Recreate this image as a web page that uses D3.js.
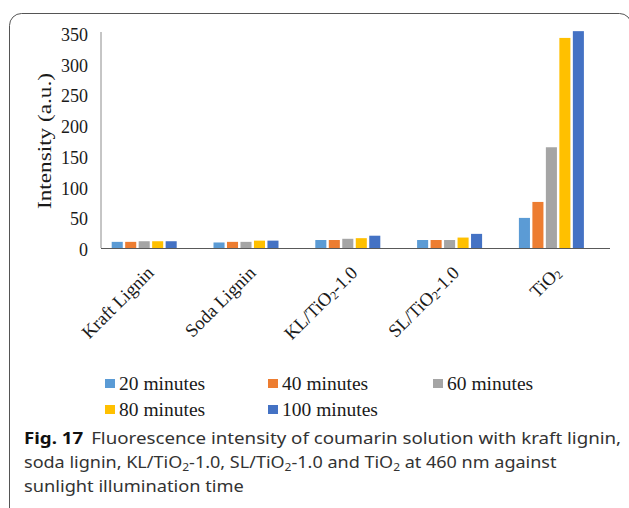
<!DOCTYPE html>
<html>
<head>
<meta charset="utf-8">
<script src="https://cdn.jsdelivr.net/npm/d3@7"></script>
<style>
  body { margin: 0; background: #fff; }
  svg { display: block; }
  .serif { font-family: "Liberation Serif", "Times New Roman", serif; fill: #1a1a1a; }
  .caption { font-family: "Noto Sans", "Open Sans", sans-serif; fill: #333; }
</style>
</head>
<body>
<svg id="chart"></svg>
<script>
// categories along the x axis
const categories = ['Kraft Lignin', 'Soda Lignin', 'KL/TiO2-1.0', 'SL/TiO2-1.0', 'TiO2'];
// series (sunlight illumination time)
const seriesNames = ['20 minutes', '40 minutes', '60 minutes', '80 minutes', '100 minutes'];
const seriesColors = ['#5b9bd5', '#ed7d31', '#a5a5a5', '#ffc000', '#4472c4'];
// values, one array per series
const min20 = [10, 9, 13, 13, 49];
const min40 = [10, 10, 13, 13, 75];
const min60 = [11, 10, 15, 13, 164];
const min80 = [11, 12, 16, 17, 342];
const min100 = [11, 12, 20, 23, 353];
const yTicks = [0, 50, 100, 150, 200, 250, 300, 350];

const seriesValues = [min20, min40, min60, min80, min100];

const width = 629;
const height = 508;

const svg = d3.select('#chart')
  .attr('width', width)
  .attr('height', height);

// frame with rounded corner (runs off the right and bottom edges)
svg.append('rect')
  .attr('x', 9.5)
  .attr('y', 13.5)
  .attr('width', 622)
  .attr('height', 530)
  .attr('rx', 12)
  .attr('fill', 'none')
  .attr('stroke', '#555')
  .attr('stroke-width', 1);

const x0 = d3.scaleBand()
  .domain(categories)
  .range([101, 610])
  .padding(0);

const x1 = d3.scaleBand()
  .domain(seriesNames)
  .range([10.7, 75.7])
  .paddingInner(0.18);

const y = d3.scaleLinear()
  .domain([0, 350])
  .range([248, 33]);

// bars
const rows = categories.map((c, i) => ({
  cat: c,
  vals: seriesNames.map((s, j) => ({ s, v: seriesValues[j][i], color: seriesColors[j] }))
}));

const groups = svg.append('g').selectAll('g')
  .data(rows)
  .enter().append('g')
  .attr('transform', d => 'translate(' + x0(d.cat) + ',0)');

groups.selectAll('rect')
  .data(d => d.vals)
  .enter().append('rect')
  .attr('x', d => x1(d.s))
  .attr('y', d => y(d.v))
  .attr('width', x1.bandwidth())
  .attr('height', d => y(0) - y(d.v))
  .attr('fill', d => d.color);

// y axis
const yAxis = svg.append('g')
  .attr('transform', 'translate(101,0)')
  .call(d3.axisLeft(y).tickValues(yTicks).tickSize(0).tickPadding(13));
yAxis.select('.domain').attr('stroke', '#8c8c8c').attr('d', 'M0,32V248');
yAxis.selectAll('text')
  .attr('class', 'serif')
  .style('font-size', '18px')
  .attr('dy', '0.42em');

// x axis baseline
svg.append('line')
  .attr('x1', x0.range()[0])
  .attr('x2', x0.range()[1])
  .attr('y1', y(0) + 0.5)
  .attr('y2', y(0) + 0.5)
  .attr('stroke', '#595959')
  .attr('stroke-width', 1.2);

// rotated category labels, with subscript 2 in TiO2
function subText(sel, str, sub, shift) {
  const parts = str.split('TiO2');
  parts.forEach((p, i) => {
    if (p) sel.append('tspan').text(p);
    if (i < parts.length - 1) {
      sel.append('tspan').text('TiO');
      sel.append('tspan').text('2').style('font-size', sub + 'px').attr('dy', shift);
      sel.append('tspan').text('\u200b').attr('dy', -shift);
    }
  });
}

svg.append('g').selectAll('text')
  .data(categories)
  .enter().append('text')
  .attr('class', 'serif')
  .style('font-size', '18.5px')
  .attr('text-anchor', 'end')
  .attr('transform', d => 'translate(' + (x0(d) + x0.bandwidth() / 2 + 3) + ',274) rotate(-45)')
  .each(function(d) { subText(d3.select(this), d, 12, 2); });

// y title
svg.append('text')
  .attr('class', 'serif')
  .style('font-size', '19px')
  .attr('text-anchor', 'middle')
  .attr('transform', 'translate(51,141) rotate(-90)')
  .attr('textLength', 136)
  .attr('lengthAdjust', 'spacingAndGlyphs')
  .text('Intensity (a.u.)');

// legend
const legendPos = [[105, 383], [268, 383], [433, 383], [105, 409], [268, 409]];
const legend = svg.append('g').selectAll('g')
  .data(seriesNames)
  .enter().append('g')
  .attr('transform', (d, i) => 'translate(' + legendPos[i][0] + ',' + legendPos[i][1] + ')');
legend.append('rect')
  .attr('x', 0)
  .attr('y', -4)
  .attr('width', 10)
  .attr('height', 9)
  .attr('fill', (d, i) => seriesColors[i]);
legend.append('text')
  .attr('class', 'serif')
  .style('font-size', '19.5px')
  .attr('x', 14)
  .attr('y', 6.5)
  .text(d => d);

// caption
const captionLines = [
  { y: 444, w: 590 },
  { y: 468, w: 533 },
  { y: 492, w: 220 }
];
const cap = svg.append('g').attr('class', 'caption').style('font-size', '16.5px');
const c1 = cap.append('text').attr('x', 0).attr('y', 0);
c1.append('tspan').style('font-weight', 'bold').style('fill', '#111').text('Fig. 17');
c1.append('tspan').attr('dx', 7).text('Fluorescence intensity of coumarin solution with kraft lignin,');
const c2 = cap.append('text').attr('x', 0).attr('y', 0);
c2.append('tspan').text('soda lignin, KL/TiO');
c2.append('tspan').text('2').style('font-size', '11px').attr('dy', 3);
c2.append('tspan').text('-1.0, SL/TiO').attr('dy', -3);
c2.append('tspan').text('2').style('font-size', '11px').attr('dy', 3);
c2.append('tspan').text('-1.0 and TiO').attr('dy', -3);
c2.append('tspan').text('2').style('font-size', '11px').attr('dy', 3);
c2.append('tspan').text(' at 460 nm against').attr('dy', -3);
const c3 = cap.append('text').attr('x', 0).attr('y', 0).text('sunlight illumination time');

[c1, c2, c3].forEach((t, i) => {
  const w = t.node().getComputedTextLength();
  const sx = captionLines[i].w / w;
  t.attr('transform', 'translate(24,' + captionLines[i].y + ') scale(' + sx + ',1)');
});
</script>
</body>
</html>
